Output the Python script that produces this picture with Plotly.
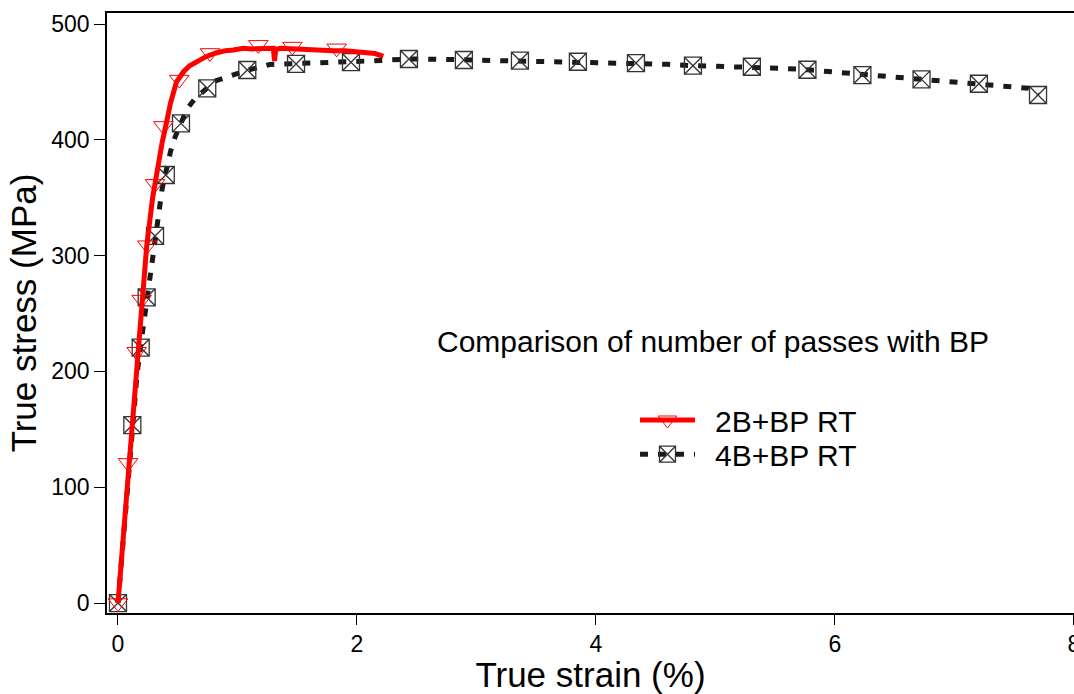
import plotly.graph_objects as go

# 2B+BP RT: true stress-strain curve
strain_2b = [0, 0.05, 0.09, 0.13, 0.16, 0.20, 0.24, 0.29, 0.33, 0.37, 0.40, 0.44,
             0.49, 0.55, 0.60, 0.67, 0.74, 0.82, 0.90, 0.965, 1.05, 1.12, 1.19,
             1.25, 1.30, 1.31, 1.32, 1.36, 1.45, 1.52, 1.60, 1.70, 1.80, 1.90,
             2.00, 2.08, 2.15, 2.22]
stress_2b = [0, 65, 122, 175, 217, 262, 308, 350, 375, 398, 412, 432,
             450, 459, 464, 468, 472, 475, 477, 477.5, 479, 478.5, 479,
             479.5, 479, 468, 478, 479, 478.5, 478, 478, 477.5, 477, 477,
             476, 475.2, 474.5, 472]
# symbol positions along the 2B+BP curve
strain_2b_sym = [0, 0.084, 0.156, 0.198, 0.245, 0.31, 0.38, 0.513, 0.77, 1.174, 1.459, 1.83]
stress_2b_sym = [0, 121, 217, 262, 309, 362, 412, 452, 475, 482, 480.5, 479]

# 4B+BP RT: true stress-strain curve
strain_4b = [0, 0.06, 0.12, 0.16, 0.20, 0.24, 0.28, 0.31, 0.34, 0.37, 0.40, 0.44,
             0.48, 0.53, 0.58, 0.64, 0.70, 0.75, 0.82, 0.90, 0.98, 1.08, 1.27,
             1.49, 1.70, 1.95, 2.20, 2.43, 2.70, 2.90, 3.10, 3.36, 3.60, 3.85,
             4.10, 4.33, 4.60, 4.81, 5.05, 5.30, 5.55, 5.77, 6.00, 6.23, 6.50,
             6.72, 6.95, 7.20, 7.45, 7.62, 7.70]
stress_4b = [0, 78, 154, 198, 230, 262, 290, 315, 340, 358, 372, 390,
             403, 415, 427, 435, 441, 445, 451, 454, 457, 460, 465,
             465.5, 466.5, 467.5, 468.5, 469.8, 469.5, 469, 468.8, 468.3, 468, 467.4,
             467, 466.3, 465.2, 464, 463.6, 463.1, 461.8, 460.5, 458.5, 456, 454.5,
             452.2, 450.5, 448.4, 446, 444.5, 438.7]
# symbol positions along the 4B+BP curve
strain_4b_sym = [0, 0.12, 0.19, 0.24, 0.31, 0.40, 0.527, 0.747, 1.082, 1.49, 1.95,
                 2.435, 2.895, 3.364, 3.849, 4.335, 4.812, 5.305, 5.77, 6.23, 6.725,
                 7.205, 7.70]
stress_4b_sym = [0, 153.7, 220.5, 264, 317, 369.6, 414.2, 444.5, 460.3, 465.5, 467,
                 469.8, 468.9, 468.3, 467.4, 466.3, 464.0, 463.1, 460.5, 455.9, 452.2,
                 448.4, 438.7]

x_ticks = [0, 2, 4, 6, 8]
y_ticks = [0, 100, 200, 300, 400, 500]

series_names = ["2B+BP RT", "4B+BP RT"]
note_text = "Comparison of number of passes with BP"

FONT = "Arial, Liberation Sans, sans-serif"
RED = "#ff0000"
DARK = "#1a1a1a"

red_line = dict(color=RED, width=5)
red_marker = dict(symbol="triangle-down-open", size=17, color=RED, line=dict(color=RED, width=1))
black_line = dict(color=DARK, width=5, dash="8px,10px")
black_marker = dict(symbol="square-x-open", size=17, color="#333333", line=dict(color="#333333", width=1.3))

fig = go.Figure()

fig.add_trace(go.Scatter(x=strain_4b, y=stress_4b, mode="lines", line=black_line,
                         showlegend=False, hoverinfo="skip"))
fig.add_trace(go.Scatter(x=strain_4b_sym, y=stress_4b_sym, mode="markers", marker=black_marker,
                         showlegend=False))
fig.add_trace(go.Scatter(x=strain_2b, y=stress_2b, mode="lines", line=red_line,
                         showlegend=False, hoverinfo="skip"))
fig.add_trace(go.Scatter(x=strain_2b_sym, y=stress_2b_sym, mode="markers", marker=red_marker,
                         showlegend=False))

# legend entries combining line and symbol, one legend box per row
fig.add_trace(go.Scatter(x=[None], y=[None], mode="lines+markers", name="\u2002" + series_names[0],
                         line=red_line, marker=red_marker, legend="legend"))
fig.add_trace(go.Scatter(x=[None], y=[None], mode="lines+markers", name="\u2002" + series_names[1],
                         line=black_line, marker=black_marker, legend="legend2"))

fig.add_annotation(text=note_text, xref="paper", yref="paper", x=0.627, y=0.452,
                   showarrow=False, font=dict(family=FONT, size=30, color="black"),
                   xanchor="center", yanchor="middle")

legend_style = dict(xanchor="left", yanchor="top",
                    font=dict(family=FONT, size=30, color="black"),
                    itemwidth=55, bgcolor="rgba(0,0,0,0)")

fig.update_layout(
    width=1074, height=694,
    margin=dict(l=107, r=0, t=13, b=81),
    paper_bgcolor="white", plot_bgcolor="white",
    font=dict(family=FONT, color="black"),
    legend=dict(x=0.546, y=0.365, **legend_style),
    legend2=dict(x=0.546, y=0.308, **legend_style),
)

fig.update_xaxes(
    range=[-0.092, 8.001], tickvals=x_ticks, ticktext=[str(v) for v in x_ticks],
    automargin=False,
    showline=True, linecolor="black", linewidth=1.5, mirror=True,
    ticks="outside", ticklen=10, tickwidth=1, tickcolor="black",
    ticklabeloverflow="allow",
    showgrid=False, zeroline=False,
    tickfont=dict(family=FONT, size=23, color="black"),
    title=dict(text="True strain (%)", font=dict(family=FONT, size=35, color="black"), standoff=6),
)
fig.update_yaxes(
    range=[-8.6, 509.5], tickvals=y_ticks, ticktext=[str(v) for v in y_ticks],
    automargin=False,
    showline=True, linecolor="black", linewidth=1.5,
    ticks="outside", ticklen=11, tickwidth=1, tickcolor="black",
    showgrid=False, zeroline=False,
    tickfont=dict(family=FONT, size=23, color="black"),
    title=dict(text="True stress (MPa)", font=dict(family=FONT, size=35, color="black"), standoff=4),
)

fig.write_html("out.html")
